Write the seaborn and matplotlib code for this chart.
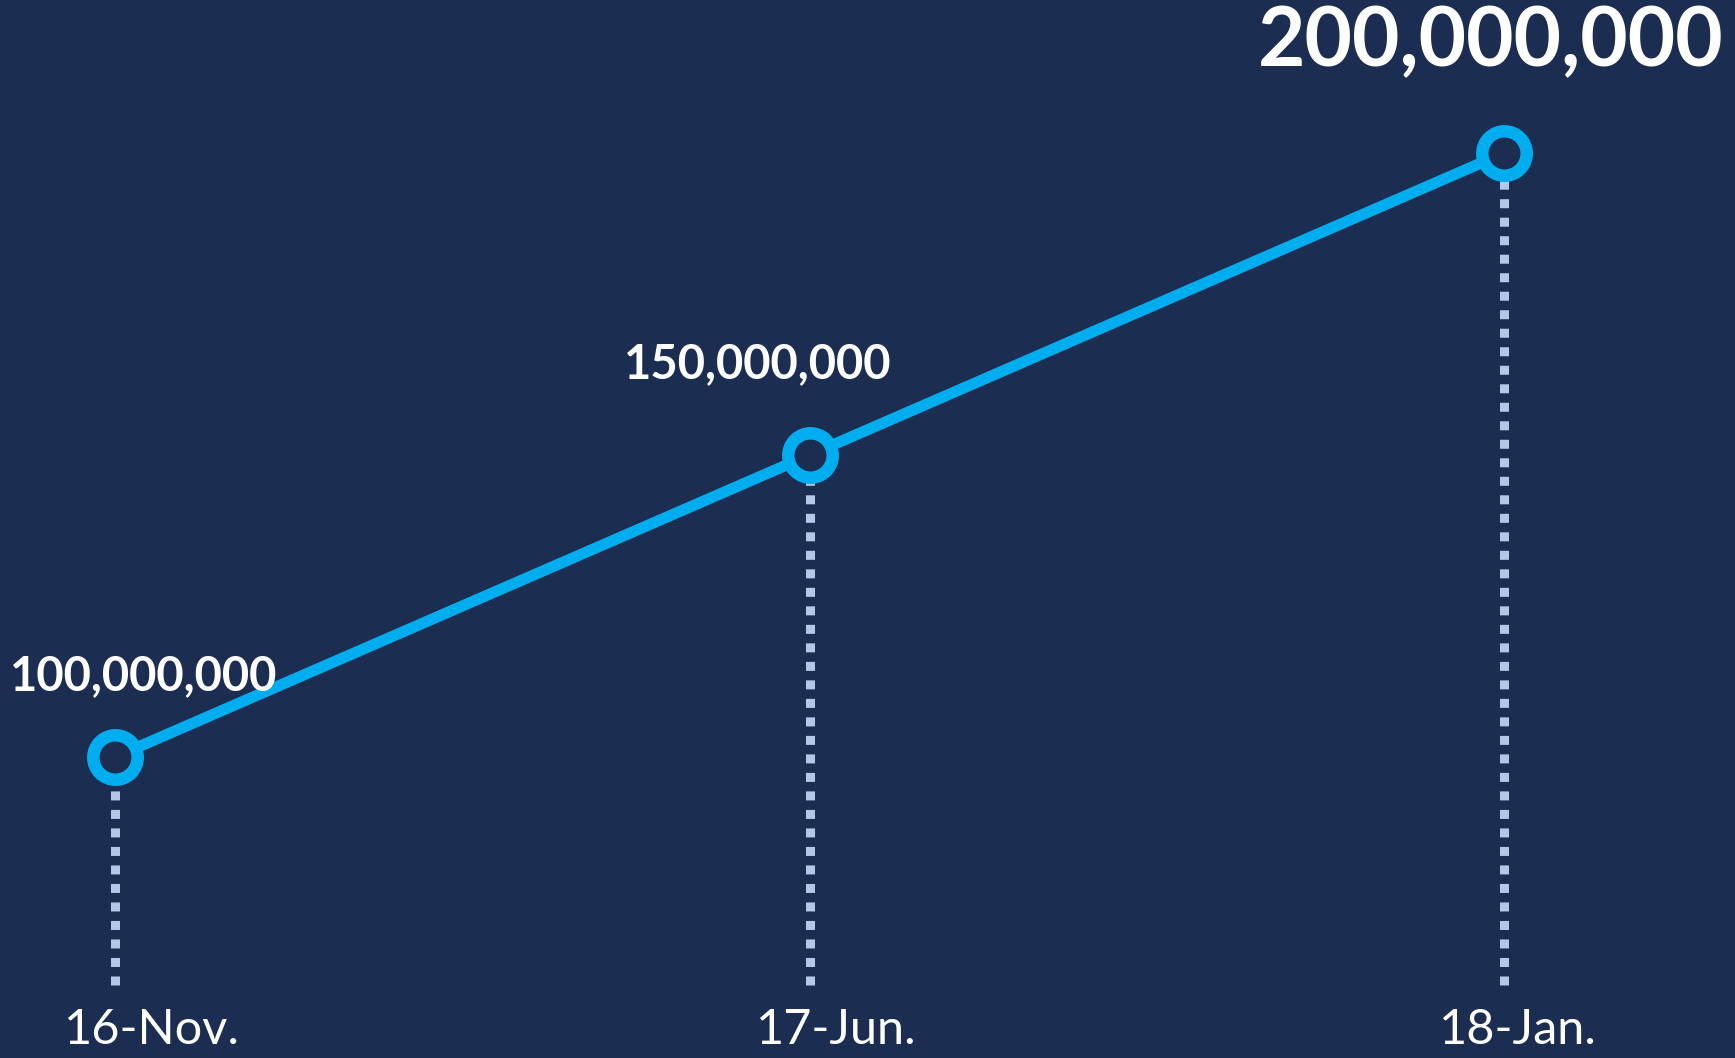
import numpy as np
import pandas as pd
import seaborn as sns
import matplotlib.pyplot as plt

# Data
dates = ['16-Nov.', '17-Jun.', '18-Jan.']
users = [100000000, 150000000, 200000000]

# Colours
bg_color = '#1b2d50'
line_color = '#00aeef'
dot_color = '#b4c7e7'

sns.set_theme(style='white')
plt.rcParams['font.family'] = ['Lato', 'DejaVu Sans']

df = pd.DataFrame({'pos': np.arange(len(dates)), 'date': dates, 'users': users})

fig = plt.figure(figsize=(17.35, 10.58), dpi=100, facecolor=bg_color)
ax = fig.add_axes([0, 0, 1, 1])
ax.set_facecolor(bg_color)

# Axis limits so the first and last points sit where the reference has them
ax.set_xlim(-0.1656, 2.332)
ax.set_ylim(50.18e6, 225.3e6)

# Dotted drop lines from each point to the bottom
base = 50.18e6 + 0.069 / 0.5711 * 100e6
ax.vlines(df['pos'], base, df['users'], colors=dot_color, linewidth=6.5,
          linestyles=(0, (1, 1.05)), zorder=1)

# Main line with hollow markers
sns.lineplot(data=df, x='pos', y='users', ax=ax, color=line_color,
             linewidth=8, marker='o', markersize=32, zorder=3)
line = ax.lines[-1]
line.set_markerfacecolor(bg_color)
line.set_markeredgecolor(line_color)
line.set_markeredgewidth(9)
line.set_solid_capstyle('round')

# Value labels above the points
label_offsets = [(29, 81), (-52, 91), (-14, 110)]
label_sizes = [34, 34, 59]
for x, v, off, fs in zip(df['pos'], df['users'], label_offsets, label_sizes):
    ax.annotate(f'{v:,}', xy=(x, v), xytext=off, textcoords='offset pixels',
                ha='center', va='center', color='white', fontsize=fs,
                fontweight='bold')

# Date labels along the bottom
date_offsets = [37, 27, 14]
for x, d, dx in zip(df['pos'], dates, date_offsets):
    ax.annotate(d, xy=(x, 0), xycoords=ax.get_xaxis_transform(),
                xytext=(dx, 28), textcoords='offset pixels',
                ha='center', va='center', color='white', fontsize=35,
                fontweight='normal')

ax.set_axis_off()
plt.savefig('out.png', dpi=100, facecolor=bg_color)
